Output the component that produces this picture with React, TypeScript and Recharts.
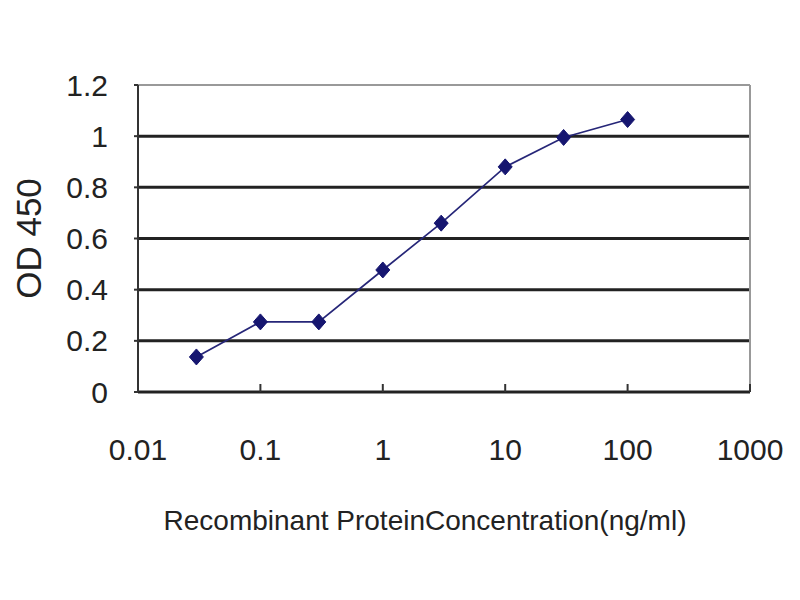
import React from "react";
import { LineChart, Line, XAxis, YAxis, ReferenceLine } from "recharts";

const concentrations = [0.03, 0.1, 0.3, 1, 3, 10, 30, 100];
const odValues = [0.137, 0.274, 0.274, 0.477, 0.66, 0.88, 0.995, 1.065];
const xTicks = [0.01, 0.1, 1, 10, 100, 1000];
const yTicks = [0, 0.2, 0.4, 0.6, 0.8, 1, 1.2];
const gridValues = [0.2, 0.4, 0.6, 0.8, 1];

const data = concentrations.map((c, i) => ({ conc: c, od: odValues[i] }));

const FONT = "'Liberation Sans', Arial, sans-serif";

const Diamond = (props: any) => {
  const { cx, cy } = props;
  if (cx == null || cy == null) return null;
  const w = 7;
  const h = 8;
  return (
    <polygon
      points={`${cx},${cy - h} ${cx + w},${cy} ${cx},${cy + h} ${cx - w},${cy}`}
      fill="#161670"
      stroke="#161670"
      strokeWidth={1}
    />
  );
};

export default function App() {
  return (
    <div style={{ position: "absolute", left: 0, top: 0, width: 800, height: 600, background: "#fff" }}>
      <LineChart
        width={800}
        height={600}
        data={data}
        margin={{ top: 85, right: 50, left: 0, bottom: 0 }}
      >
        {gridValues.map((g) => (
          <ReferenceLine key={g} y={g} stroke="#222" strokeWidth={3} />
        ))}
        <ReferenceLine y={1.2} stroke="#999" strokeWidth={2} />
        <ReferenceLine x={1000} stroke="#999" strokeWidth={2} />
        <XAxis
          dataKey="conc"
          type="number"
          scale="log"
          domain={[0.01, 1000]}
          ticks={xTicks}
          allowDataOverflow
          height={208}
          tickFormatter={(v: number) => String(v)}
          tick={{ fontSize: 30, fill: "#222", fontFamily: FONT }}
          tickSize={-8}
          tickMargin={55}
          tickLine={{ stroke: "#333", strokeWidth: 2 }}
          axisLine={{ stroke: "#222", strokeWidth: 3 }}
          label={{
            content: (p: any) => {
              const vb = p.viewBox;
              return (
                <text
                  x={vb.x + vb.width / 2 - 19}
                  y={530}
                  textAnchor="middle"
                  fontSize={28}
                  fontFamily={FONT}
                  fill="#222"
                >
                  Recombinant ProteinConcentration(ng/ml)
                </text>
              );
            },
          }}
        />
        <YAxis
          type="number"
          domain={[0, 1.2]}
          ticks={yTicks}
          width={138}
          tickFormatter={(v: number) => String(v)}
          tick={{ fontSize: 30, fill: "#222", fontFamily: FONT }}
          tickSize={4}
          tickMargin={26}
          tickLine={{ stroke: "#333", strokeWidth: 2 }}
          axisLine={{ stroke: "#333", strokeWidth: 2 }}
          label={{
            content: (p: any) => {
              const vb = p.viewBox;
              const cx = 28;
              const cy = vb.y + vb.height / 2;
              return (
                <text
                  x={cx}
                  y={cy}
                  textAnchor="middle"
                  dominantBaseline="central"
                  transform={`rotate(-90, ${cx}, ${cy})`}
                  fontSize={35}
                  fontFamily={FONT}
                  fill="#222"
                >
                  OD 450
                </text>
              );
            },
          }}
        />
        <Line
          type="linear"
          dataKey="od"
          stroke="#262678"
          strokeWidth={1.7}
          dot={<Diamond />}
          activeDot={false}
          isAnimationActive={false}
        />
      </LineChart>
    </div>
  );
}
